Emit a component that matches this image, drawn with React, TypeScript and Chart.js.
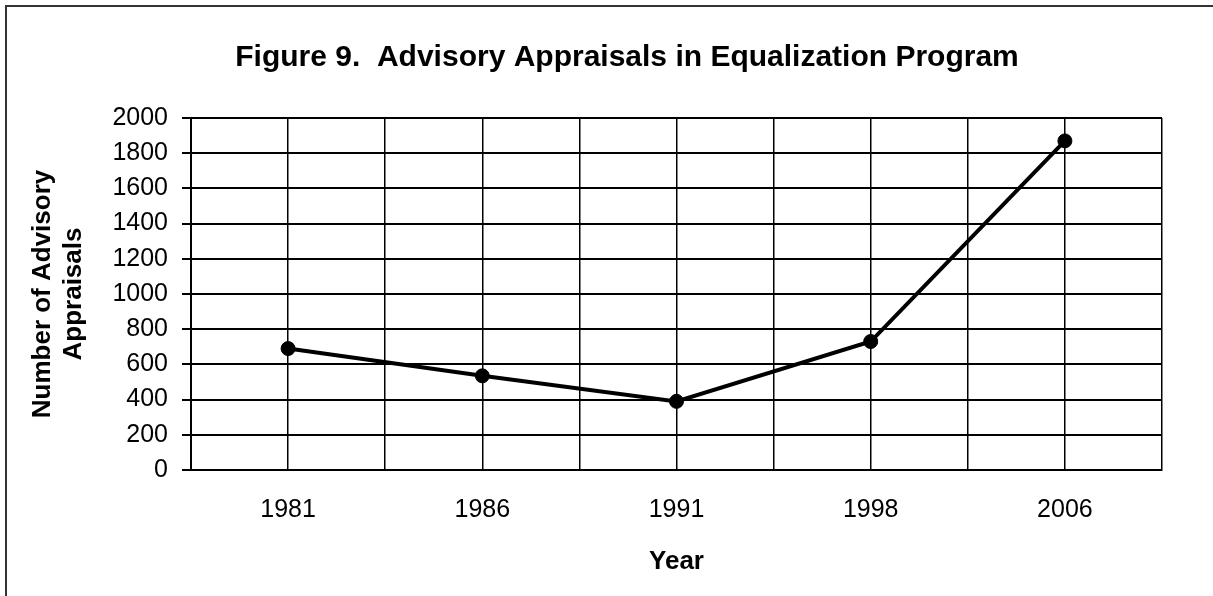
import React, { useEffect, useRef } from "react";
import { Chart, registerables } from "chart.js";

Chart.register(...registerables);

const years: string[] = ["1981", "1986", "1991", "1998", "2006"];
const appraisals: number[] = [690, 535, 390, 730, 1870];
const yTicks: number[] = [0, 200, 400, 600, 800, 1000, 1200, 1400, 1600, 1800, 2000];

const FONT = "'Liberation Sans', Arial, Helvetica, sans-serif";

export default function App() {
  const ref = useRef<HTMLCanvasElement | null>(null);

  useEffect(() => {
    document.body.style.margin = "0";
    const canvas = ref.current;
    if (!canvas) return;
    const points = appraisals.map((v, i) => ({ x: i, y: v }));
    const chart = new Chart(canvas, {
      type: "line",
      data: {
        datasets: [
          {
            data: points,
            borderColor: "#000",
            backgroundColor: "#000",
            borderWidth: 4,
            pointRadius: 7,
            pointBackgroundColor: "#000",
            pointBorderColor: "#000",
            pointBorderWidth: 1,
            tension: 0,
          },
        ],
      },
      options: {
        animation: false,
        responsive: false,
        maintainAspectRatio: false,
        events: [],
        layout: { padding: { left: 84, right: 0, top: 0, bottom: 0 } },
        plugins: {
          legend: { display: false },
          tooltip: { enabled: false },
          title: {
            display: true,
            text: "Figure 9.  Advisory Appraisals in Equalization Program",
            color: "#000",
            font: { family: FONT, size: 30, weight: "bold", lineHeight: 1.2 },
            padding: { top: 40, bottom: 42 },
          },
        },
        scales: {
          x: {
            type: "linear",
            min: -0.5,
            max: 4.5,
            afterFit: (s: any) => {
              s.height = 126;
              s.paddingLeft = 0;
              s.paddingRight = 0;
            },
            ticks: {
              stepSize: 0.5,
              autoSkip: false,
              maxRotation: 0,
              color: "#000",
              padding: 25,
              font: { family: FONT, size: 25 },
              callback: (v: any) => {
                const n = Number(v);
                return Number.isInteger(n) && n >= 0 && n < years.length ? years[n] : "";
              },
            },
            grid: { color: "#000", lineWidth: 1.5, drawTicks: false },
            border: { color: "#000", width: 2 },
            title: {
              display: true,
              text: "Year",
              color: "#000",
              font: { family: FONT, size: 26, weight: "bold", lineHeight: 1.2 },
              padding: { top: 0, bottom: 19 },
            },
          },
          y: {
            min: 0,
            max: 2000,
            afterFit: (s: any) => {
              s.width = 107;
            },
            afterBuildTicks: (s: any) => {
              s.ticks = yTicks.map((v) => ({ value: v }));
            },
            ticks: {
              autoSkip: false,
              color: "#000",
              padding: 14,
              font: { family: FONT, size: 25 },
              callback: (v: any) => String(v),
            },
            grid: { color: "#000", lineWidth: 2, drawTicks: true, tickLength: 9 },
            border: { color: "#000", width: 2 },
            title: {
              display: true,
              text: ["Number of Advisory", "Appraisals"],
              color: "#000",
              font: { family: FONT, size: 26, weight: "bold", lineHeight: 1.2 },
              padding: { top: -57, bottom: 0 },
            },
          },
        },
      },
    });
    return () => chart.destroy();
  }, []);

  return (
    <div
      style={{
        position: "relative",
        width: 1213,
        height: 596,
        overflow: "hidden",
        background: "#fff",
      }}
    >
      <canvas
        ref={ref}
        width={1170}
        height={596}
        style={{ position: "absolute", left: 0, top: 0, width: 1170, height: 596 }}
      />
      <div
        style={{
          position: "absolute",
          left: 5,
          top: 5,
          right: -10,
          bottom: -10,
          borderLeft: "2px solid #333",
          borderTop: "2px solid #333",
          pointerEvents: "none",
        }}
      />
    </div>
  );
}
